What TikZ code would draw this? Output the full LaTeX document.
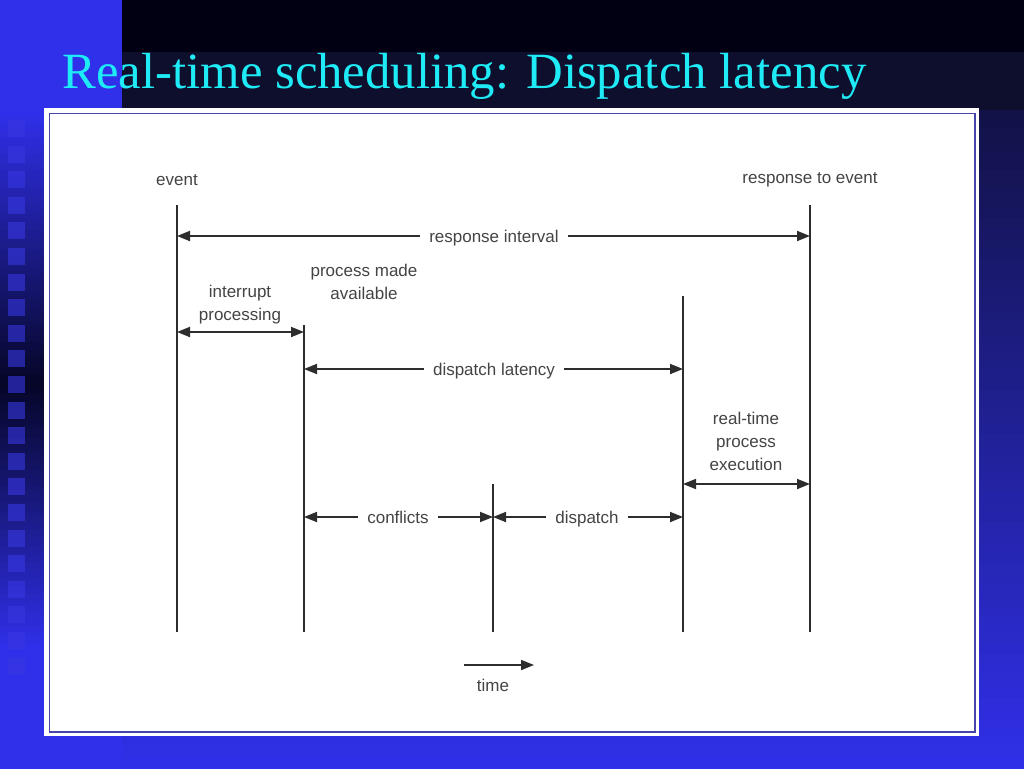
\documentclass[tikz,border=0pt]{standalone}
\usepackage{fontspec}
\setmainfont{Liberation Serif}
\newfontfamily\arialf{Liberation Sans}
\usetikzlibrary{arrows.meta}
\definecolor{topblack}{RGB}{0,0,18}
\definecolor{band}{RGB}{14,14,45}
\definecolor{bgblue}{RGB}{48,48,235}
\definecolor{upblue}{RGB}{18,18,72}
\definecolor{darkb}{RGB}{6,6,40}
\definecolor{sqc}{RGB}{55,55,225}
\definecolor{titlec}{RGB}{30,235,245}
\definecolor{ink}{RGB}{45,45,45}
\definecolor{txt}{RGB}{68,68,68}
\definecolor{framec}{RGB}{70,70,170}
\tikzset{
  lab/.style={font=\arialf\fontsize{17}{23}\selectfont, text=txt, align=center, inner sep=0pt},
  gaplab/.style={lab, fill=white, inner xsep=9pt, inner ysep=2pt, anchor=base},
  vline/.style={draw=ink, line width=1.8pt},
  dimarrow/.style={draw=ink, line width=1.8pt, {Triangle[length=13pt,width=10pt]}-{Triangle[length=13pt,width=10pt]}},
  timearrow/.style={draw=ink, line width=1.8pt, -{Triangle[length=13pt,width=10pt]}},
}
\begin{document}
\begin{tikzpicture}[x=1pt,y=-1pt]
\useasboundingbox (0,0) rectangle (1024,768);
% background, right part
\fill[topblack] (120,-2) rectangle (1026,52);
\fill[band] (120,52) rectangle (1026,110);
\foreach \i in {0,...,165} {
  \pgfmathtruncatemacro\p{\i/165*100}
  \fill[bgblue!\p!upblue] (120,{110+4*\i}) rectangle (1026,{114.6+4*\i});
}
% background, left strip
\fill[bgblue] (-2,-2) rectangle (122,112);
\foreach \i in {0,...,68} {
  \pgfmathtruncatemacro\p{100-\i/68*100}
  \fill[bgblue!\p!darkb] (-2,{110+4*\i}) rectangle (122,{114.6+4*\i});
}
\foreach \i in {0,...,66} {
  \pgfmathtruncatemacro\p{\i/66*100}
  \fill[bgblue!\p!darkb] (-2,{382+4*\i}) rectangle (122,{386.6+4*\i});
}
\fill[bgblue] (-2,648) rectangle (122,770);
\foreach \k in {0,...,21} \fill[sqc, opacity=0.6] (8,{120+25.6*\k}) rectangle ++(17,17);
% white panel
\fill[white] (44,108) rectangle (979,736);
\draw[framec, line width=1.3pt] (49.5,113.5) rectangle (975,732);
% title
\node[anchor=base west, inner sep=0pt, text=titlec, font=\fontsize{50.8}{60}\selectfont] (title) at (62,88) {Real-time scheduling: Dispatch latency};
% vertical time lines
\coordinate (aT) at (177,205); \coordinate (aB) at (177,632);
\coordinate (bT) at (304,325); \coordinate (bB) at (304,632);
\coordinate (cT) at (493,484); \coordinate (cB) at (493,632);
\coordinate (dT) at (683,296); \coordinate (dB) at (683,632);
\coordinate (eT) at (810,205); \coordinate (eB) at (810,632);
\draw[vline] (aT) -- (aB);
\draw[vline] (bT) -- (bB);
\draw[vline] (cT) -- (cB);
\draw[vline] (dT) -- (dB);
\draw[vline] (eT) -- (eB);
% labels above lines
\node[lab] (event) at (177,180) {event};
\node[lab] (resp) at (810,180) {response to event};
\node[lab] (avail) at (364,282) {process made\\available};
\node[lab] (intr) at (240,305) {interrupt\\processing};
\node[lab] (rtpe) at (746,441) {real-time\\process\\execution};
% arrows
\coordinate (ri1) at (177,236); \coordinate (ri2) at (810,236);
\draw[dimarrow] (ri1) -- (ri2);
\node[gaplab] (rilab) at (494,242) {response interval};
\coordinate (ip1) at (177,332); \coordinate (ip2) at (304,332);
\draw[dimarrow] (ip1) -- (ip2);
\coordinate (dl1) at (304,369); \coordinate (dl2) at (683,369);
\draw[dimarrow] (dl1) -- (dl2);
\node[gaplab] (dllab) at (494,375) {dispatch latency};
\coordinate (rt1) at (683,484); \coordinate (rt2) at (810,484);
\draw[dimarrow] (rt1) -- (rt2);
\coordinate (cf1) at (304,517); \coordinate (cf2) at (493,517);
\draw[dimarrow] (cf1) -- (cf2);
\node[gaplab] (cflab) at (398,523) {conflicts};
\coordinate (dp1) at (493,517); \coordinate (dp2) at (683,517);
\draw[dimarrow] (dp1) -- (dp2);
\node[gaplab] (dplab) at (587,523) {dispatch};
% time arrow
\coordinate (t1) at (464,665); \coordinate (t2) at (534,665);
\draw[timearrow] (t1) -- (t2);
\node[lab] (time) at (493,685) {time};
\end{tikzpicture}
\end{document}
